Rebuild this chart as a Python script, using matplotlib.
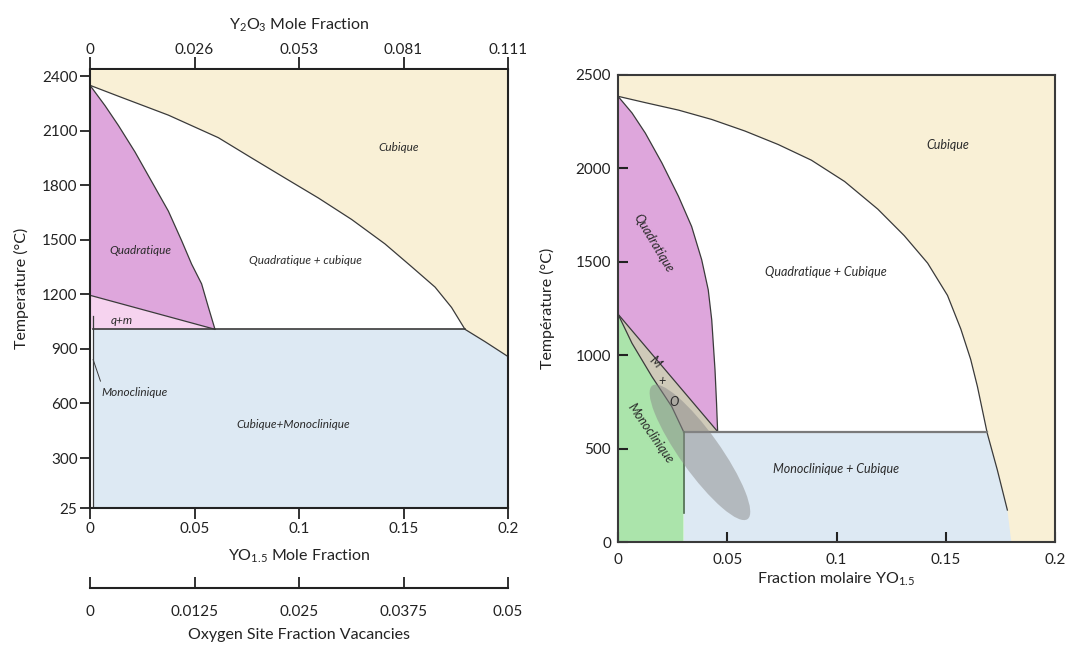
import matplotlib
matplotlib.use('Agg')
import matplotlib.pyplot as plt
from matplotlib.patches import Polygon, Ellipse
from matplotlib import transforms

plt.rcParams['font.family'] = ['Lato', 'DejaVu Sans']
plt.rcParams['mathtext.fontset'] = 'custom'
plt.rcParams['mathtext.rm'] = 'Lato'
plt.rcParams['mathtext.it'] = 'Lato:italic'

# ---------------- Left diagram (English) ----------------
L_xticks = [0, 0.05, 0.1, 0.15, 0.2]
L_xticklabels = ['0', '0.05', '0.1', '0.15', '0.2']
L_top_labels = ['0', '0.026', '0.053', '0.081', '0.111']
L_oxy_labels = ['0', '0.0125', '0.025', '0.0375', '0.05']
L_yticks = [25, 300, 600, 900, 1200, 1500, 1800, 2100, 2400]

L_cubic_x = [0, 0.0136, 0.0375, 0.0614, 0.0774, 0.0933, 0.1093, 0.1252,
             0.1411, 0.1539, 0.1651, 0.1730, 0.1794, 0.189, 0.2]
L_cubic_T = [2350, 2290, 2186, 2062, 1950, 1840, 1730, 1612,
             1478, 1352, 1240, 1128, 1008, 940, 858]
L_quad_x = [0, 0.0072, 0.0136, 0.0215, 0.0295, 0.0375, 0.0439, 0.0486,
            0.0534, 0.0566, 0.0598]
L_quad_T = [2350, 2238, 2129, 1984, 1821, 1658, 1494, 1367, 1258, 1131, 1008]
L_qm_T0 = 1195          # start of q/q+m boundary at x=0
L_eutectoid_T = 1008    # horizontal invariant line
L_mono_x = 0.0015       # monoclinic solubility limit
L_mono_top = 1080

# ---------------- Right diagram (French) ----------------
R_xticks = [0, 0.05, 0.1, 0.15, 0.2]
R_xticklabels = ['0', '0.05', '0.1', '0.15', '0.2']
R_yticks = [0, 500, 1000, 1500, 2000, 2500]

R_cubic_x = [0, 0.0125, 0.0277, 0.0429, 0.0581, 0.0733, 0.0885, 0.1037,
             0.1189, 0.1310, 0.1417, 0.1508, 0.1569, 0.1614, 0.1645,
             0.1690, 0.1736, 0.1782]
R_cubic_T = [2386, 2352, 2312, 2262, 2200, 2128, 2044, 1930,
             1782, 1640, 1493, 1320, 1140, 978, 832,
             582, 386, 171]
R_cubic_foot_x = 0.18
R_quad_x = [0, 0.0064, 0.0125, 0.0201, 0.0277, 0.0337, 0.0383, 0.0413,
            0.0429, 0.0444, 0.0451, 0.0456]
R_quad_T = [2386, 2297, 2189, 2029, 1850, 1689, 1511, 1350,
            1189, 921, 743, 591]
R_mo_low_x = [0, 0.0064, 0.0155, 0.0246, 0.030]
R_mo_low_T = [1220, 1064, 886, 725, 591]
R_eutectoid_T = 591
R_mono_x = 0.030
R_mono_line_bottom = 154
R_cubic_eut_x = 0.169
# metastable (t') domain, shown as a grey ellipse
R_ell_center = (0.0375, 480)
R_ell_size_in = (1.64, 0.40)
R_ell_angle = -54.5

C_CUB = '#f9f0d6'
C_QUAD = '#dea6dc'
C_QM = '#f6d3ef'
C_BLUE = '#dde9f3'
C_GREEN = '#abe4ab'
C_MO = '#cfcab9'
LINE = '#3a3a3a'
TXT = '#222222'

fig = plt.figure(figsize=(10.68, 6.48), dpi=100)
W, H = 1068, 648

# ======== LEFT ========
axL = fig.add_axes([90 / W, 1 - 508 / H, 418 / W, 438.5 / H])
axL.set_xlim(0, 0.2)
axL.set_ylim(25, 2437)

# blue two-phase field
axL.add_patch(Polygon([(L_mono_x, 25), (L_mono_x, L_eutectoid_T),
                       (0.2, L_eutectoid_T), (0.2, 25)],
                      closed=True, fc=C_BLUE, ec='none', zorder=1))
# q+m
axL.add_patch(Polygon([(0, L_qm_T0), (L_quad_x[-1], L_quad_T[-1]),
                       (L_quad_x[-1], L_eutectoid_T), (0, L_eutectoid_T)],
                      closed=True, fc=C_QM, ec='none', zorder=1))
# quadratique
axL.add_patch(Polygon(list(zip(L_quad_x, L_quad_T)) + [(0, L_qm_T0)],
                      closed=True, fc=C_QUAD, ec='none', zorder=1))
# cubique
axL.add_patch(Polygon(list(zip(L_cubic_x, L_cubic_T)) + [(0.2, 2437), (0, 2437)],
                      closed=True, fc=C_CUB, ec='none', zorder=2))

axL.plot(L_cubic_x, L_cubic_T, color=LINE, lw=0.9, zorder=3)
axL.plot(L_quad_x, L_quad_T, color=LINE, lw=0.9, zorder=3)
axL.plot([0, L_quad_x[-1]], [L_qm_T0, L_quad_T[-1]], color=LINE, lw=0.9, zorder=3)
axL.plot([L_mono_x, 0.1794], [L_eutectoid_T, L_eutectoid_T], color=LINE, lw=1.2, zorder=3)
axL.plot([L_mono_x, L_mono_x], [25, L_mono_top], color=LINE, lw=0.9, zorder=3)
axL.plot([0.0015, 0.0050], [841, 723], color=LINE, lw=0.7, zorder=3)

tkw = dict(fontsize=8.5, style='italic', color='#2a2a2a', zorder=4)
axL.text(0.1475, 2008, 'Cubique', ha='center', va='center', **tkw)
axL.text(0.0239, 1443, 'Quadratique', ha='center', va='center', **tkw)
axL.text(0.1029, 1389, 'Quadratique + cubique', ha='center', va='center', **tkw)
axL.text(0.0152, 1055, 'q+m', ha='center', va='center', **tkw)
axL.text(0.0057, 662, 'Monoclinique', ha='left', va='center', **tkw)
axL.text(0.0971, 483, 'Cubique+Monoclinique', ha='center', va='center', **tkw)

for s in axL.spines.values():
    s.set_color(TXT)
    s.set_linewidth(1.5)
    s.set_zorder(5)
axL.spines['top'].set_visible(False)
axL.set_xticks(L_xticks, L_xticklabels)
axL.set_yticks(L_yticks, [str(v) for v in L_yticks])
axL.tick_params(direction='out', length=7, width=1.3, labelsize=11,
                colors=TXT, pad=2)
axL.tick_params(axis='x', length=8)
axL.set_xlabel('YO$_{1.5}$ Mole Fraction', fontsize=11.5, color=TXT)
axL.xaxis.set_label_coords(0.5, -0.09)
axL.set_ylabel('Temperature (°C)', fontsize=11.5, color=TXT)
axL.yaxis.set_label_coords(-0.145, 0.5)

top = axL.secondary_xaxis('top')
top.set_xticks(L_xticks, L_top_labels)
top.tick_params(direction='out', length=9, width=1.3, labelsize=11,
                colors=TXT, pad=0)
top.spines['top'].set_linewidth(1.5)
top.spines['top'].set_color(TXT)
top.set_xlabel('Y$_2$O$_3$ Mole Fraction', fontsize=11.5, color=TXT, labelpad=10)

# oxygen-site vacancy scale (separate bare axis below)
axO = fig.add_axes([90 / W, 1 - 588 / H, 418 / W, 20 / H], facecolor='none')
axO.set_xlim(0, 0.2)
for k in ('top', 'left', 'right'):
    axO.spines[k].set_visible(False)
axO.spines['bottom'].set_linewidth(1.5)
axO.spines['bottom'].set_color(TXT)
axO.set_yticks([])
axO.set_xticks(L_xticks, L_oxy_labels)
axO.tick_params(axis='x', direction='in', length=8, width=1.3, labelsize=11,
                colors=TXT, pad=12)
axO.set_xlabel('Oxygen Site Fraction Vacancies', fontsize=11.5, color=TXT, labelpad=7)

# ======== RIGHT ========
axR = fig.add_axes([618 / W, 1 - 542 / H, 437 / W, 467 / H])
axR.set_xlim(0, 0.2)
axR.set_ylim(0, 2500)

# blue
axR.add_patch(Polygon([(R_mono_x, 0), (R_mono_x, R_eutectoid_T),
                       (0.2, R_eutectoid_T), (0.2, 0)],
                      closed=True, fc=C_BLUE, ec='none', zorder=1))
# green monoclinic
axR.add_patch(Polygon([(0, 0)] + list(zip(R_mo_low_x, R_mo_low_T)) + [(R_mono_x, 0)],
                      closed=True, fc=C_GREEN, ec='none', zorder=1))
# M + O
axR.add_patch(Polygon([(0, R_mo_low_T[0]), (R_quad_x[-1], R_quad_T[-1])] +
                      list(zip(R_mo_low_x[::-1], R_mo_low_T[::-1])),
                      closed=True, fc=C_MO, ec='none', zorder=1))
# quadratique
axR.add_patch(Polygon(list(zip(R_quad_x, R_quad_T)) + [(0, R_mo_low_T[0])],
                      closed=True, fc=C_QUAD, ec='none', zorder=1))
# cubique
axR.add_patch(Polygon(list(zip(R_cubic_x, R_cubic_T)) +
                      [(R_cubic_foot_x, 0), (0.2, 0), (0.2, 2500), (0, 2500)],
                      closed=True, fc=C_CUB, ec='none', zorder=2))

axR.plot(R_cubic_x, R_cubic_T, color=LINE, lw=0.9, zorder=3)
axR.plot(R_quad_x, R_quad_T, color=LINE, lw=0.9, zorder=3)
axR.plot([0, R_quad_x[-1]], [R_mo_low_T[0], R_quad_T[-1]], color=LINE, lw=0.9, zorder=3)
axR.plot(R_mo_low_x, R_mo_low_T, color=LINE, lw=0.9, zorder=3)
axR.plot([R_mono_x, R_cubic_eut_x], [R_eutectoid_T, R_eutectoid_T],
         color='#7a7a7a', lw=1.6, zorder=3)
axR.plot([R_mono_x, R_mono_x], [R_mono_line_bottom, R_eutectoid_T],
         color='#4a6a4a', lw=1.2, zorder=3)

trans = fig.dpi_scale_trans + transforms.ScaledTranslation(
    R_ell_center[0], R_ell_center[1], axR.transData)
axR.add_patch(Ellipse((0, 0), R_ell_size_in[0], R_ell_size_in[1], angle=R_ell_angle,
                      transform=trans, fc='#8a8a8a', ec='none', alpha=0.5, zorder=3.5))

rkw = dict(fontsize=9, style='italic', color='#2a2a2a', zorder=4)
axR.text(0.1508, 2127, 'Cubique', ha='center', va='center', **rkw)
axR.text(0.0163, 1602, 'Quadratique', ha='center', va='center', rotation=-59,
         rotation_mode='anchor', **rkw)
axR.text(0.0953, 1448, 'Quadratique + Cubique', ha='center', va='center', **rkw)
axR.text(0.0169, 966, 'M', ha='center', va='center', rotation=-45, **rkw)
axR.text(0.0202, 859, '+', ha='center', va='center', **rkw)
axR.text(0.0257, 752, 'O', ha='center', va='center', **rkw)
axR.text(0.0150, 583, 'Monoclinique', ha='center', va='center', rotation=-55,
         rotation_mode='anchor', **rkw)
axR.text(0.0999, 389, 'Monoclinique + Cubique', ha='center', va='center', **rkw)

for s in axR.spines.values():
    s.set_color('#3a3a3a')
    s.set_linewidth(1.5)
    s.set_zorder(5)
axR.set_xticks(R_xticks, R_xticklabels)
axR.set_yticks(R_yticks, [str(v) for v in R_yticks])
axR.tick_params(direction='in', length=7, width=1.5, labelsize=11, colors=TXT)
axR.tick_params(axis='x', pad=8)
axR.tick_params(axis='y', pad=5)
axR.set_xlabel('Fraction molaire YO$_{1.5}$', fontsize=11.5, color=TXT)
axR.xaxis.set_label_coords(0.5, -0.062)
axR.set_ylabel('Température (°C)', fontsize=11.5, color=TXT)
axR.yaxis.set_label_coords(-0.144, 0.5)

fig.savefig('out.png', dpi=100, facecolor='white')
